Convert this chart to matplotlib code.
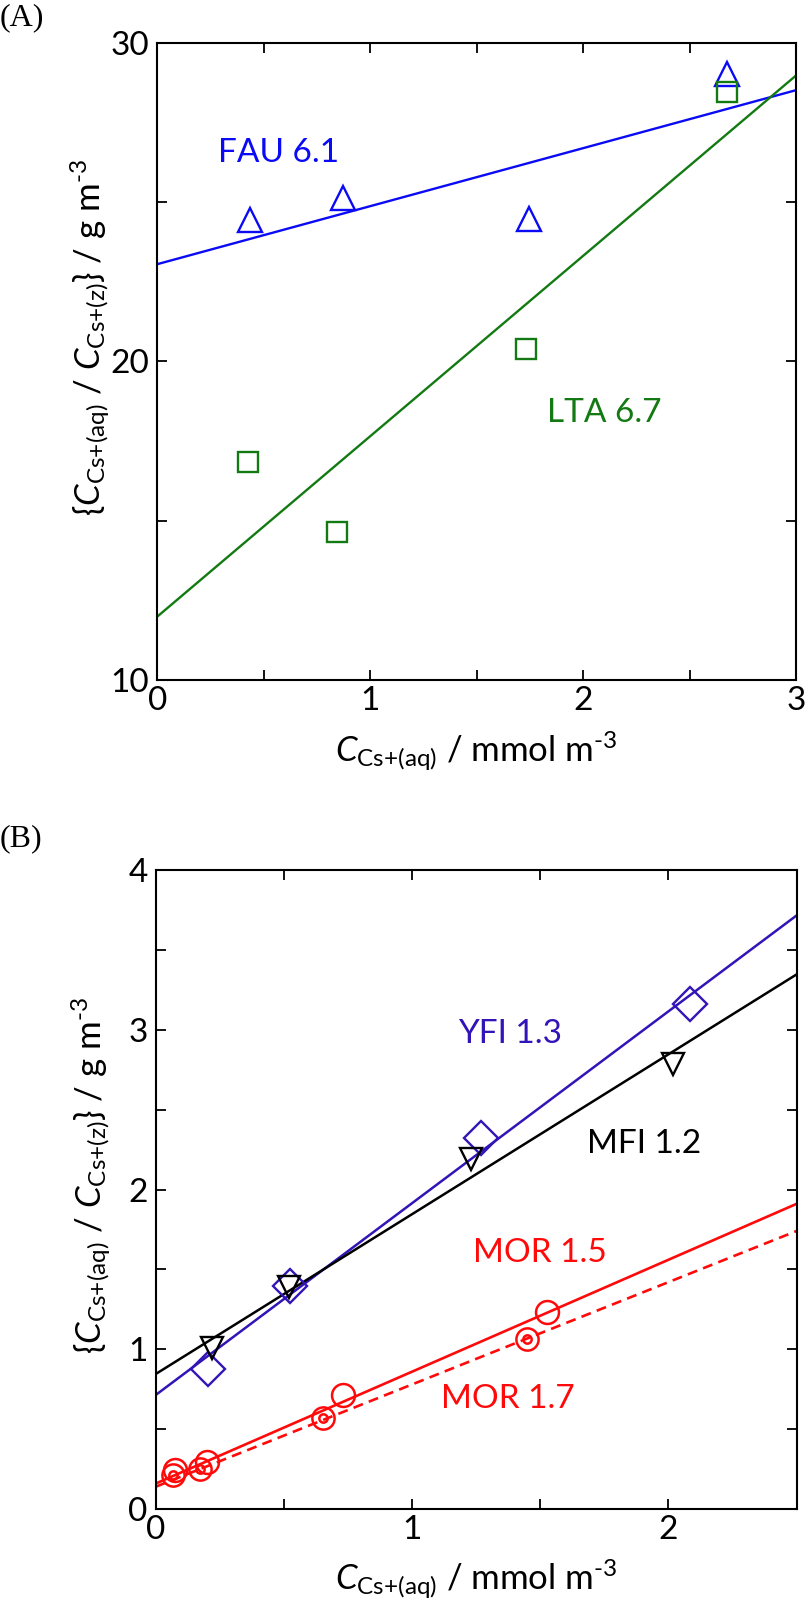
import numpy as np
import matplotlib
matplotlib.use("Agg")
import matplotlib.pyplot as plt
from matplotlib.ticker import MultipleLocator

plt.rcParams['font.family'] = ['Lato', 'DejaVu Sans']
plt.rcParams['mathtext.fontset'] = 'custom'
plt.rcParams['mathtext.rm'] = 'Lato'
plt.rcParams['mathtext.it'] = 'Lato:italic'
plt.rcParams['mathtext.bf'] = 'Lato:bold'

# ---------------- Panel A data ----------------
fau_x = [0.434, 0.874, 1.745, 2.677]
fau_y = [24.43, 25.14, 24.46, 29.03]
fau_fit = [23.05, 1.82]          # intercept, slope
lta_x = [0.424, 0.845, 1.733, 2.674]
lta_y = [16.85, 14.65, 20.39, 28.45]
lta_fit = [11.99, 5.66]

# ---------------- Panel B data ----------------
yfi_x = [0.204, 0.524, 1.269, 2.084]
yfi_y = [0.878, 1.398, 2.325, 3.161]
yfi_fit = [0.715, 1.20]
mfi_x = [0.22, 0.52, 1.231, 2.018]
mfi_y = [1.008, 1.39, 2.188, 2.787]
mfi_fit = [0.846, 1.00]
mor15_x = [0.076, 0.198, 0.731, 1.525]
mor15_y = [0.246, 0.294, 0.714, 1.235]
mor15_fit = [0.16, 0.70]
mor17_x = [0.065, 0.170, 0.653, 1.449]
mor17_y = [0.210, 0.252, 0.571, 1.065]
mor17_fit = [0.14, 0.64]

labels_A = ["FAU 6.1", "LTA 6.7"]
labels_B = ["YFI 1.3", "MFI 1.2", "MOR 1.5", "MOR 1.7"]

C_BLUE = '#0A0AF5'
C_GREEN = '#137A13'
C_PURP = '#3314B8'
C_RED = '#FF0A0A'

W, H = 805, 1604
fig = plt.figure(figsize=(W / 100, H / 100), dpi=100)

def px_axes(l, t, r, b):
    return fig.add_axes([l / W, 1 - b / H, (r - l) / W, (b - t) / H])

axA = px_axes(157.3, 42.7, 796, 680)
axB = px_axes(156, 870, 796.5, 1509)

TICK_FS = 24
LAB_FS = 25

def style(ax, xmax, ymin, ymax, xmaj, xmin_, ymaj, ymin_):
    ax.set_xlim(0, xmax)
    ax.set_ylim(ymin, ymax)
    ax.xaxis.set_major_locator(MultipleLocator(xmaj))
    ax.xaxis.set_minor_locator(MultipleLocator(xmin_))
    ax.yaxis.set_major_locator(MultipleLocator(ymaj))
    ax.yaxis.set_minor_locator(MultipleLocator(ymin_))
    for s in ax.spines.values():
        s.set_linewidth(1.5)
    ax.tick_params(which='both', direction='in', top=True, right=True,
                   length=7, width=1.3)
    ax.tick_params(axis='x', which='major', labelsize=TICK_FS, pad=4)
    ax.tick_params(axis='y', which='major', labelsize=TICK_FS, pad=6)

style(axA, 3, 10, 30, 1, 0.5, 10, 5)
style(axB, 2.5, 0, 4, 1, 0.5, 1, 0.5)

xlab = r'$C_{\mathrm{Cs{+}(aq)}}$ / mmol m$^{\text{-3}}$'
ylab = r'$\{C_{\mathrm{Cs{+}(aq)}}$ / $C_{\mathrm{Cs{+}(z)}}\}$ / g m$^{\text{-3}}$'
for ax in (axA, axB):
    ax.set_xlabel(xlab, fontsize=LAB_FS)
    ax.set_ylabel(ylab, fontsize=LAB_FS)
    ax.xaxis.set_label_coords(0.5, -0.072)
    ax.yaxis.set_label_coords(-0.066, 0.53)
    ax.xaxis.label.set_va('top')

# ----- Panel A -----
xx = np.array([0, 3.0])
axA.plot(xx, fau_fit[0] + fau_fit[1] * xx, color=C_BLUE, lw=1.7)
axA.plot(xx, lta_fit[0] + lta_fit[1] * xx, color=C_GREEN, lw=1.7)
axA.plot(fau_x, fau_y, ls='none', marker='^', ms=17, mfc='none', mec=C_BLUE, mew=1.7)
axA.plot(lta_x, lta_y, ls='none', marker='s', ms=14.5, mfc='none', mec=C_GREEN, mew=1.7)
axA.text(0.285, 26.27, labels_A[0], color=C_BLUE, fontsize=TICK_FS, va='baseline', ha='left')
axA.text(1.83, 18.11, labels_A[1], color=C_GREEN, fontsize=TICK_FS, va='baseline', ha='left')

# ----- Panel B -----
xb = np.array([0, 2.5])
axB.plot(xb, yfi_fit[0] + yfi_fit[1] * xb, color=C_PURP, lw=1.8)
axB.plot(xb, mfi_fit[0] + mfi_fit[1] * xb, color='black', lw=1.8)
axB.plot(xb, mor15_fit[0] + mor15_fit[1] * xb, color=C_RED, lw=1.9)
axB.plot(xb, mor17_fit[0] + mor17_fit[1] * xb, color=C_RED, lw=1.9, ls=(0, (3.8, 2.4)))
axB.plot(yfi_x, yfi_y, ls='none', marker='D', ms=17, mfc='none', mec=C_PURP, mew=1.7)
axB.plot(mfi_x, mfi_y, ls='none', marker='v', ms=16.5, mfc='none', mec='black', mew=1.7)
axB.plot(mor15_x, mor15_y, ls='none', marker='o', ms=16.5, mfc='none', mec=C_RED, mew=1.8)
axB.plot(mor17_x, mor17_y, ls='none', marker='o', ms=16, mfc='none', mec=C_RED, mew=1.8)
axB.plot(mor17_x, mor17_y, ls='none', marker='o', ms=6, mfc='none', mec=C_RED, mew=1.8)
axB.text(1.18, 2.92, labels_B[0], color=C_PURP, fontsize=TICK_FS, va='baseline', ha='left')
axB.text(1.684, 2.228, labels_B[1], color='black', fontsize=TICK_FS, va='baseline', ha='left')
axB.text(1.238, 1.545, labels_B[2], color=C_RED, fontsize=TICK_FS, va='baseline', ha='left')
axB.text(1.114, 0.634, labels_B[3], color=C_RED, fontsize=TICK_FS, va='baseline', ha='left')

# panel letters
fig.text(0 / W, 1 - 3 / H, '(A)', family='Liberation Serif', fontsize=23, va='top', ha='left')
fig.text(0 / W, 1 - 824 / H, '(B)', family='Liberation Serif', fontsize=23, va='top', ha='left')

# fit axis-label placement to the measured pixel extents of the reference
# targets: (ylabel right edge, ylabel vertical centre, xlabel top) in px from top-left
targets = {axA: (112.0, 337.0, 729.5), axB: (113.0, 1175.6, 1558.0)}
fig.canvas.draw()
r = fig.canvas.get_renderer()
for ax, (yl_right, yl_cy, xl_top) in targets.items():
    abb = ax.get_window_extent(r)
    lab = ax.yaxis.label
    bb = lab.get_window_extent(r)
    dx = yl_right - bb.x1
    dy = (H - yl_cy) - 0.5 * (bb.y0 + bb.y1)
    ax.yaxis.set_label_coords(-0.066 + dx / abb.width, 0.53 + dy / abb.height)
    lab = ax.xaxis.label
    bb = lab.get_window_extent(r)
    dy = (H - xl_top) - bb.y1
    ax.xaxis.set_label_coords(0.5, -0.072 + dy / abb.height)

fig.savefig('out.png', dpi=100)
